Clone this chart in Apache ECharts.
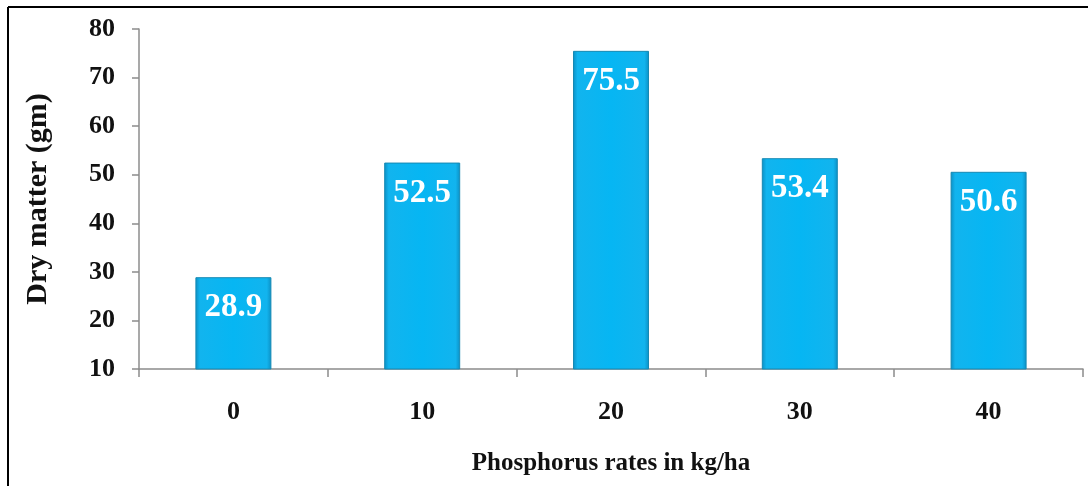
<!DOCTYPE html>
<html><head><meta charset="utf-8">
<script src="https://cdn.jsdelivr.net/npm/echarts@6/dist/echarts.min.js"></script>
<style>html,body{margin:0;padding:0;background:#fff}#c{width:1088px;height:486px}</style>
</head><body><div id="c"></div>
<script>
const categories = ['0', '10', '20', '30', '40'];
const dryMatter = [28.9, 52.5, 75.5, 53.4, 50.6];
const yTicks = [10, 20, 30, 40, 50, 60, 70, 80];
const xTitle = 'Phosphorus rates in kg/ha';
const yTitle = 'Dry matter (gm)';

const font = '"Liberation Serif", "Times New Roman", serif';
const chart = echarts.init(document.getElementById('c'));
chart.setOption({
  animation: false,
  backgroundColor: '#fff',
  graphic: [
    {type: 'line', shape: {x1: 8, y1: 7, x2: 1088, y2: 7}, style: {stroke: '#000', lineWidth: 2}},
    {type: 'line', shape: {x1: 8, y1: 7, x2: 8, y2: 486}, style: {stroke: '#000', lineWidth: 2}}
  ],
  grid: {left: 139, right: 5, top: 29, bottom: 117},
  xAxis: {
    type: 'category', data: categories,
    axisLine: {lineStyle: {color: '#8c8c8c', width: 1.5}},
    axisTick: {show: true, length: 8, lineStyle: {color: '#8c8c8c', width: 1.5}},
    axisLabel: {fontFamily: font, fontWeight: 'bold', fontSize: 26, color: '#111', margin: 30},
    name: xTitle, nameLocation: 'middle', nameGap: 82,
    nameTextStyle: {fontFamily: font, fontWeight: 'bold', fontSize: 25, color: '#111'}
  },
  yAxis: {
    type: 'value', min: yTicks[0], max: yTicks[yTicks.length - 1], interval: 10,
    splitLine: {show: false},
    axisLine: {show: true, lineStyle: {color: '#8c8c8c', width: 1.5}},
    axisTick: {show: true, length: 7, lineStyle: {color: '#8c8c8c', width: 1.5}},
    axisLabel: {fontFamily: font, fontWeight: 'bold', fontSize: 26, color: '#111', margin: 24},
    name: yTitle, nameLocation: 'middle', nameGap: 86, nameRotate: 90,
    nameTextStyle: {fontFamily: font, fontWeight: 'bold', fontSize: 30, color: '#111'}
  },
  series: [{
    type: 'bar', data: dryMatter, barWidth: 76,
    itemStyle: {
      color: new echarts.graphic.LinearGradient(0, 0, 1, 0, [
        {offset: 0, color: '#0b8fc4'},
        {offset: 0.06, color: '#12b4ee'},
        {offset: 0.5, color: '#06b6f3'},
        {offset: 0.94, color: '#12b4ee'},
        {offset: 1, color: '#0b8fc4'}
      ]),
      borderColor: '#1689b3', borderWidth: 1
    },
    label: {
      show: true, position: 'insideTop', distance: 14,
      fontFamily: font, fontWeight: 'bold', fontSize: 33, color: '#fff',
      formatter: p => p.value.toFixed(1)
    }
  }]
});
</script></body></html>
